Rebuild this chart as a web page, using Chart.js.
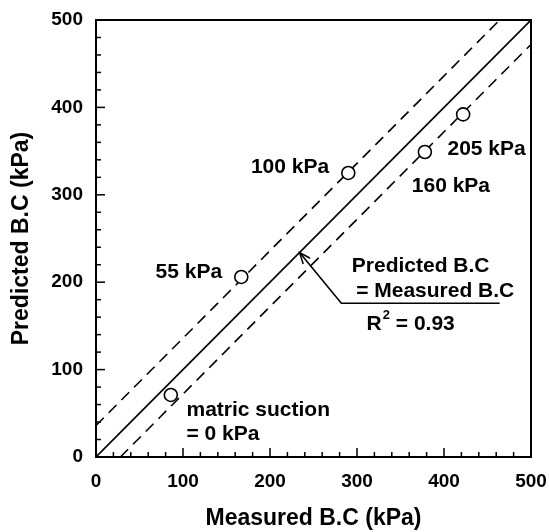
<!DOCTYPE html>
<html>
<head>
<meta charset="utf-8">
<script src="https://cdn.jsdelivr.net/npm/chart.js@4.4.1/dist/chart.umd.min.js"></script>
<style>
  html, body { margin: 0; padding: 0; background: #fff; }
  #wrap { width: 549px; height: 532px; }
</style>
</head>
<body>
<div id="wrap"><canvas id="chart" width="549" height="532"></canvas></div>
<script>
// measured vs predicted bearing capacity (kPa), one point per matric suction
const suctionLabels = ['0 kPa', '55 kPa', '100 kPa', '160 kPa', '205 kPa'];
const measuredBC = [86, 167, 290, 378, 422];
const predictedBC = [71, 206, 325, 349, 392];

// 1:1 line and the two dashed bounds
const lineOneX = [0, 500];
const lineOneY = [0, 500];
const upperBoundX = [0, 464];
const upperBoundY = [36, 500];
const lowerBoundX = [28, 500];
const lowerBoundY = [0, 472];

// leader line for the "Predicted B.C = Measured B.C" note
const leaderX = [464, 282, 234];
const leaderY = [176, 176, 234];

const axisTicks = [0, 100, 200, 300, 400, 500];

const FONT = '"Liberation Sans", Arial, Helvetica, sans-serif';

const toPoints = (xs, ys) => xs.map((x, i) => ({ x: x, y: ys[i] }));

// annotation texts, placed in data units
const notes = [
    { text: '55 kPa', x: 145, y: 211, align: 'right' },
    { text: '100 kPa', x: 268, y: 332, align: 'right' },
    { text: '205 kPa', x: 404, y: 352, align: 'left' },
    { text: '160 kPa', x: 363, y: 310, align: 'left' },
    { text: 'Predicted B.C', x: 294, y: 218, align: 'left' },
    { text: '= Measured B.C', x: 299, y: 190, align: 'left' },
    { text: 'matric suction', x: 104, y: 54, align: 'left' },
    { text: '= 0 kPa', x: 104, y: 26, align: 'left' }
];

const framePlugin = {
    id: 'frame',
    afterDatasetsDraw(chart) {
        const { ctx, chartArea: a, scales: { x, y } } = chart;
        ctx.save();
        ctx.strokeStyle = '#000';

        // inward ticks on bottom and left axes
        ctx.lineWidth = 1.5;
        for (let v = 20; v < 500; v += 20) {
            const len = v % 100 === 0 ? 9 : 5;
            const px = x.getPixelForValue(v);
            ctx.beginPath();
            ctx.moveTo(px, a.bottom);
            ctx.lineTo(px, a.bottom - len);
            ctx.stroke();
            const py = y.getPixelForValue(v);
            ctx.beginPath();
            ctx.moveTo(a.left, py);
            ctx.lineTo(a.left + len, py);
            ctx.stroke();
        }

        // box
        ctx.lineWidth = 2;
        ctx.strokeRect(a.left, a.top, a.right - a.left, a.bottom - a.top);

        // arrow head at the end of the leader line
        const n = leaderX.length - 1;
        const tx = x.getPixelForValue(leaderX[n]), ty = y.getPixelForValue(leaderY[n]);
        const fx = x.getPixelForValue(leaderX[n - 1]), fy = y.getPixelForValue(leaderY[n - 1]);
        const ang = Math.atan2(ty - fy, tx - fx);
        ctx.lineWidth = 1.5;
        ctx.beginPath();
        ctx.moveTo(tx - 12 * Math.cos(ang - 0.38), ty - 12 * Math.sin(ang - 0.38));
        ctx.lineTo(tx, ty);
        ctx.lineTo(tx - 12 * Math.cos(ang + 0.38), ty - 12 * Math.sin(ang + 0.38));
        ctx.stroke();

        // texts
        ctx.fillStyle = '#000';
        ctx.textBaseline = 'middle';
        ctx.font = 'bold 21px ' + FONT;
        notes.forEach(n => {
            ctx.textAlign = n.align;
            ctx.fillText(n.text, x.getPixelForValue(n.x), y.getPixelForValue(n.y));
        });

        // R^2 = 0.93
        let rx = x.getPixelForValue(311);
        const ry = y.getPixelForValue(152);
        ctx.textAlign = 'left';
        ctx.fillText('R', rx, ry);
        rx += ctx.measureText('R').width;
        ctx.font = 'bold 13px ' + FONT;
        ctx.fillText('2', rx + 1, ry - 9);
        rx += ctx.measureText('2').width + 1;
        ctx.font = 'bold 21px ' + FONT;
        ctx.fillText(' = 0.93', rx, ry);

        ctx.restore();
    }
};

new Chart(document.getElementById('chart'), {
    type: 'scatter',
    data: {
        datasets: [
            {
                label: 'Matric suction',
                data: toPoints(measuredBC, predictedBC),
                pointRadius: 6.5,
                pointBorderWidth: 1.6,
                pointBorderColor: '#000',
                pointBackgroundColor: '#fff',
                order: 0
            },
            {
                type: 'line',
                data: toPoints(lineOneX, lineOneY),
                borderColor: '#000',
                borderWidth: 1.6,
                pointRadius: 0,
                order: 1
            },
            {
                type: 'line',
                data: toPoints(upperBoundX, upperBoundY),
                borderColor: '#000',
                borderWidth: 1.6,
                borderDash: [11, 7],
                pointRadius: 0,
                order: 1
            },
            {
                type: 'line',
                data: toPoints(lowerBoundX, lowerBoundY),
                borderColor: '#000',
                borderWidth: 1.6,
                borderDash: [11, 7],
                pointRadius: 0,
                order: 1
            },
            {
                type: 'line',
                data: toPoints(leaderX, leaderY),
                borderColor: '#000',
                borderWidth: 1.6,
                pointRadius: 0,
                order: 1
            }
        ]
    },
    options: {
        responsive: false,
        animation: false,
        layout: { padding: { left: 8, right: 18, top: 20, bottom: 0 } },
        plugins: {
            legend: { display: false },
            tooltip: { enabled: false }
        },
        scales: {
            x: {
                type: 'linear',
                min: 0,
                max: 500,
                afterBuildTicks: (s) => { s.ticks = axisTicks.map(v => ({ value: v })); },
                afterFit: (s) => { s.height = 75; s.paddingLeft = 0; s.paddingRight = 0; },
                grid: { display: false, drawTicks: false },
                border: { display: false },
                ticks: {
                    padding: 13,
                    color: '#000',
                    font: { family: FONT, size: 19, weight: 'bold' }
                },
                title: {
                    display: true,
                    text: 'Measured B.C (kPa)',
                    color: '#000',
                    padding: { top: 4, bottom: 0 },
                    font: { family: FONT, size: 23, weight: 'bold' }
                }
            },
            y: {
                type: 'linear',
                min: 0,
                max: 500,
                afterBuildTicks: (s) => { s.ticks = axisTicks.map(v => ({ value: v })); },
                afterFit: (s) => { s.width = 88; s.paddingTop = 0; s.paddingBottom = 0; },
                grid: { display: false, drawTicks: false },
                border: { display: false },
                ticks: {
                    padding: 13,
                    color: '#000',
                    font: { family: FONT, size: 19, weight: 'bold' }
                },
                title: {
                    display: true,
                    text: 'Predicted B.C (kPa)',
                    color: '#000',
                    padding: { top: 0, bottom: 0 },
                    font: { family: FONT, size: 23, weight: 'bold' }
                }
            }
        }
    },
    plugins: [framePlugin]
});
</script>
</body>
</html>
